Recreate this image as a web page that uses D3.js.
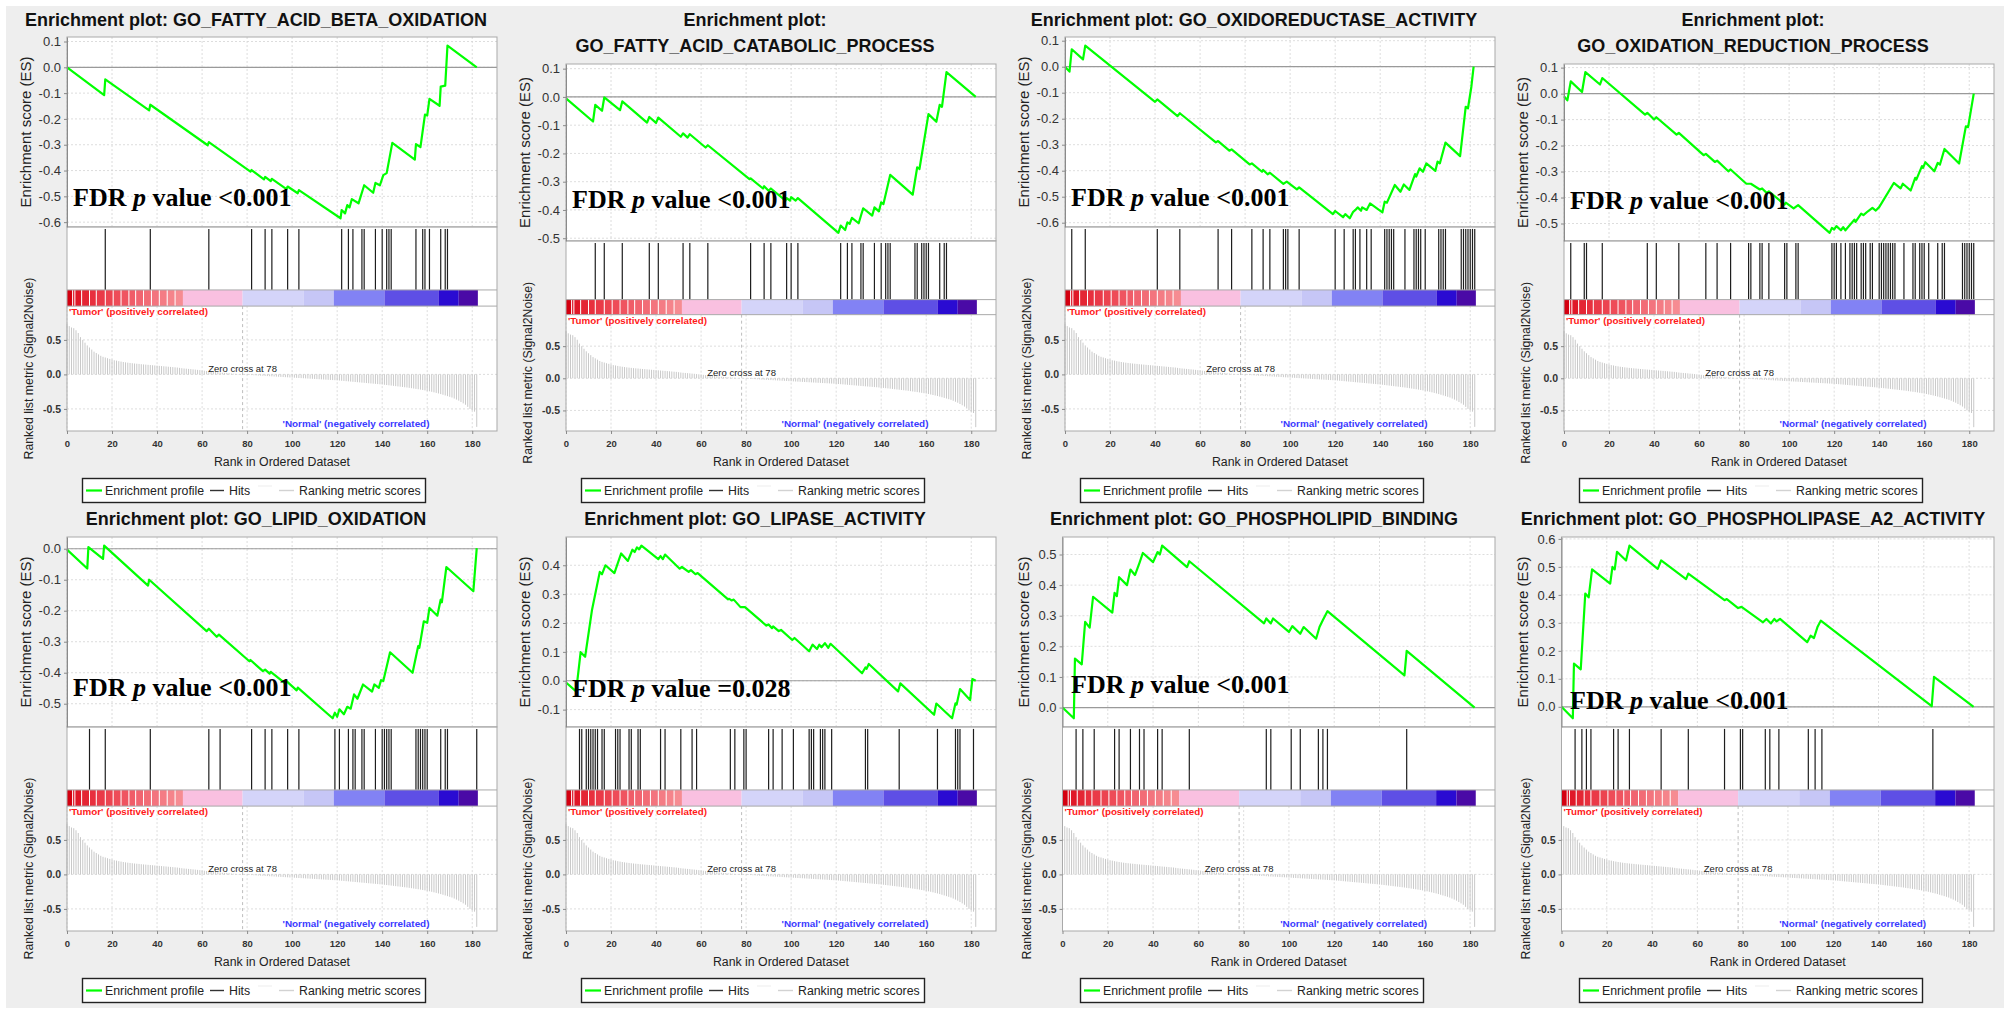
<!DOCTYPE html>
<html>
<head>
<meta charset="utf-8">
<script src="https://cdn.jsdelivr.net/npm/d3@7"></script>
<style>
  body { margin: 0; background: #fff; }
  svg { display: block; }
</style>
</head>
<body>
<script>
// ---- data ----
const titles = [
    ["Enrichment plot: GO_FATTY_ACID_BETA_OXIDATION"],
    ["Enrichment plot:", "GO_FATTY_ACID_CATABOLIC_PROCESS"],
    ["Enrichment plot: GO_OXIDOREDUCTASE_ACTIVITY"],
    ["Enrichment plot:", "GO_OXIDATION_REDUCTION_PROCESS"],
    ["Enrichment plot: GO_LIPID_OXIDATION"],
    ["Enrichment plot: GO_LIPASE_ACTIVITY"],
    ["Enrichment plot: GO_PHOSPHOLIPID_BINDING"],
    ["Enrichment plot: GO_PHOSPHOLIPASE_A2_ACTIVITY"]
]
const fdrValues = ["<0.001", "<0.001", "<0.001", "<0.001", "<0.001", "=0.028", "<0.001", "<0.001"]

// running enrichment score, [rank, ES] vertices
const es1 = [[0,0],[16.5,-0.108],[17,-0.047],[36.5,-0.167],[37,-0.145],[62.5,-0.302],[63,-0.29],[81.5,-0.404],[82,-0.398],[87.5,-0.434],[88,-0.425],[90.5,-0.441],[91,-0.432],[97.5,-0.472],[98,-0.462],[102.5,-0.488],[103,-0.476],[121.5,-0.585],[122,-0.553],[123.5,-0.566],[124.5,-0.534],[125.5,-0.543],[126.5,-0.511],[129.5,-0.527],[132,-0.457],[136,-0.486],[137,-0.448],[139,-0.457],[140.5,-0.418],[142,-0.41],[144.5,-0.293],[154.5,-0.358],[155,-0.298],[157,-0.309],[159,-0.183],[160,-0.187],[161,-0.122],[165.5,-0.149],[166,-0.075],[168,-0.071],[169,0.084],[182,0]]
const es2 = [[0,-0.005],[12,-0.087],[13,-0.028],[16,-0.049],[17,-0.002],[24,-0.047],[25,-0.016],[36,-0.091],[37,-0.071],[40,-0.092],[41,-0.073],[51,-0.141],[52,-0.129],[54,-0.144],[55,-0.132],[62,-0.179],[63,-0.171],[81.5,-0.291],[82,-0.288],[87.5,-0.324],[88,-0.316],[90,-0.332],[91,-0.324],[97.5,-0.367],[98,-0.358],[99.5,-0.367],[100,-0.355],[102,-0.367],[103,-0.358],[121,-0.481],[122,-0.455],[124,-0.471],[125,-0.444],[126,-0.449],[127,-0.428],[130,-0.447],[132,-0.394],[136,-0.42],[137,-0.391],[139,-0.405],[140,-0.373],[141,-0.379],[144,-0.276],[154,-0.346],[156,-0.249],[157,-0.255],[161,-0.061],[164.5,-0.088],[166,-0.028],[167,-0.035],[169,0.088],[182,0]]
const es3 = [[0,0],[2,-0.019],[3,0.067],[8,0.028],[9,0.081],[40,-0.135],[41,-0.126],[50,-0.19],[51,-0.179],[67,-0.291],[68,-0.286],[73,-0.323],[74,-0.318],[82,-0.376],[83,-0.372],[87.5,-0.404],[88,-0.397],[90,-0.414],[91,-0.408],[97,-0.451],[98.5,-0.442],[103,-0.472],[104,-0.464],[119,-0.567],[120,-0.555],[123.5,-0.579],[124.5,-0.567],[126.5,-0.583],[128,-0.558],[129,-0.551],[130,-0.541],[131.5,-0.554],[132,-0.541],[134,-0.551],[135.5,-0.526],[141,-0.56],[142,-0.519],[143,-0.523],[146.5,-0.455],[149,-0.481],[150.5,-0.453],[153,-0.474],[155.5,-0.413],[156,-0.423],[157.5,-0.391],[159,-0.404],[160.5,-0.372],[164.5,-0.401],[165.5,-0.365],[166.5,-0.372],[169,-0.292],[175.5,-0.344],[178,-0.154],[179,-0.16],[180.5,-0.077],[181.5,0]]
const es4 = [[0,-0.01],[1.5,-0.026],[3,0.047],[8,0.006],[9.5,0.083],[16,0.035],[17,0.06],[36,-0.081],[37,-0.074],[40,-0.1],[41,-0.091],[50,-0.158],[51,-0.151],[62,-0.237],[63,-0.232],[67,-0.263],[68,-0.258],[73,-0.299],[74,-0.292],[81,-0.347],[83,-0.347],[87,-0.369],[88,-0.365],[90,-0.382],[91,-0.376],[98,-0.427],[98.5,-0.42],[102,-0.442],[104,-0.429],[118,-0.536],[119,-0.517],[120,-0.523],[121,-0.51],[123,-0.526],[124,-0.514],[125,-0.526],[129,-0.485],[129.5,-0.494],[132,-0.462],[133,-0.468],[135,-0.453],[137,-0.44],[138.5,-0.45],[140,-0.437],[146.5,-0.344],[149.5,-0.365],[150.5,-0.347],[154,-0.373],[156,-0.324],[156.5,-0.331],[159,-0.279],[159.5,-0.286],[160.5,-0.264],[164.5,-0.299],[166,-0.267],[167,-0.273],[169,-0.213],[175.5,-0.269],[178.5,-0.126],[179.5,-0.129],[182,0]]
const es5 = [[0,-0.003],[9,-0.064],[9.5,0.005],[16,-0.033],[16.5,0.01],[36,-0.119],[36.5,-0.1],[62,-0.266],[63,-0.258],[66.5,-0.284],[67.5,-0.277],[81,-0.363],[81.5,-0.359],[87,-0.395],[88,-0.39],[90,-0.403],[90.5,-0.397],[96.5,-0.432],[97.5,-0.427],[102,-0.457],[102.5,-0.448],[118,-0.547],[119,-0.529],[120,-0.542],[121,-0.518],[123,-0.534],[124.5,-0.51],[126,-0.516],[127.5,-0.47],[129,-0.484],[131.5,-0.438],[135.5,-0.461],[136.5,-0.438],[138.5,-0.449],[139.5,-0.424],[140.5,-0.427],[143.5,-0.334],[153.5,-0.4],[156,-0.314],[156.5,-0.32],[158.5,-0.234],[160,-0.239],[161,-0.191],[164.5,-0.216],[166,-0.164],[166.5,-0.173],[168.5,-0.059],[180.5,-0.137],[182,0.002]]
const es6 = [[0,-0.006],[4.5,-0.037],[6.5,0.099],[8.5,0.083],[11.5,0.243],[15,0.377],[16,0.369],[17.5,0.4],[21.5,0.373],[24.5,0.441],[27.5,0.415],[29.5,0.454],[30.5,0.446],[31.5,0.462],[32.5,0.455],[33.5,0.468],[41,0.421],[42,0.432],[43,0.421],[44,0.437],[50.5,0.388],[51.5,0.394],[54.5,0.377],[55.5,0.383],[57.5,0.369],[58.5,0.373],[72,0.282],[72.5,0.284],[73.5,0.278],[74.5,0.281],[77.5,0.255],[79.5,0.255],[89,0.191],[90,0.195],[91.5,0.182],[92,0.188],[94.5,0.172],[95.5,0.176],[100.5,0.141],[101.5,0.148],[108,0.102],[109.5,0.125],[111.5,0.11],[112.5,0.125],[113.5,0.116],[115,0.13],[116.5,0.114],[117.5,0.128],[131.5,0.026],[133,0.046],[133.5,0.041],[134.5,0.058],[147.5,-0.037],[148.5,-0.009],[163.5,-0.118],[164.5,-0.079],[171.5,-0.13],[173,-0.078],[173.5,-0.083],[175,-0.029],[179.5,-0.067],[180.5,0.006],[182,0]]
const es7 = [[0,0],[5,-0.035],[5.5,0.16],[8.5,0.141],[10,0.28],[12,0.261],[13.5,0.362],[22,0.31],[23,0.375],[24,0.364],[25,0.426],[28.5,0.4],[30,0.451],[32,0.433],[34,0.473],[35.5,0.505],[40,0.475],[42,0.508],[43,0.5],[44,0.529],[55,0.459],[56,0.478],[89,0.275],[90,0.291],[92,0.275],[93,0.291],[100,0.247],[101.5,0.266],[105,0.241],[106.5,0.263],[112,0.225],[113.5,0.263],[115,0.286],[117,0.315],[151,0.105],[152,0.185],[182,0]]
const es8 = [[0,0],[5,-0.041],[5.5,0.154],[8.5,0.134],[10.5,0.405],[12,0.391],[13.5,0.491],[21.5,0.44],[22.5,0.5],[23.5,0.491],[24.5,0.554],[28.5,0.523],[30,0.576],[42.5,0.493],[44,0.523],[55,0.456],[56,0.476],[72,0.381],[73,0.385],[78,0.353],[79.5,0.357],[89,0.302],[90.5,0.314],[92.5,0.298],[94,0.314],[95,0.305],[96.5,0.314],[108.5,0.231],[110,0.254],[111.5,0.246],[113,0.284],[114.5,0.308],[163.5,0.002],[164.5,0.107],[182,0]]

// ranks of the gene-set members (hits)
const hits1 = [17,37,63,82,88,91,98,103,122,125,127,131,132,137,140,142,143,144,155,158,159,161,166,168,169]
const hits2 = [13,17,25,37,41,52,55,63,82,88,91,98,100,103,122,125,127,131,132,137,140,142,143,144,155,156,158,159,160,161,166,168,169]
const hits3 = [3,9,41,51,68,74,83,88,91,97,98,99,104,120,124,128,129,131,134,136,142,143,144,145,146,151,155,156,157,158,160,166,167,168,169,176,177,178,179,180,181,182]
const hits4 = [3,9,10,17,37,41,51,63,68,74,82,83,87,88,91,98,99,103,104,119,120,121,123,125,127,128,129,130,132,133,134,136,137,140,141,142,143,144,145,146,147,151,155,156,158,159,160,162,166,168,169,177,178,179,180,181,182]
const hits5 = [10,17,37,63,68,82,88,91,98,103,119,121,125,127,128,131,132,137,140,141,142,143,144,155,156,157,158,159,160,166,168,169,182]
const hits6 = [6,7,9,10,11,12,13,14,16,17,22,23,24,28,29,32,33,42,44,51,56,58,73,75,79,80,90,92,96,101,108,109,110,113,114,115,118,133,134,148,165,173,174,175,181]
const hits7 = [6,9,14,23,25,30,34,36,42,44,56,90,92,101,105,113,115,117,152]
const hits8 = [6,9,11,13,23,25,30,44,56,72,79,80,90,92,96,109,112,115,164]

// ranked list metric (Signal2Noise), ranks 0..182, shared by all panels
const metricScores = [
    0.73,0.70,0.68,0.67,0.64,0.60,0.54,0.50,0.46,0.42,
    0.39,0.36,0.33,0.31,0.29,0.27,0.255,0.245,0.235,0.225,
    0.215,0.205,0.20,0.192,0.186,0.18,0.175,0.17,0.166,0.162,
    0.158,0.155,0.152,0.148,0.145,0.142,0.139,0.136,0.133,0.13,
    0.127,0.124,0.121,0.118,0.115,0.112,0.109,0.106,0.103,0.10,
    0.095,0.09,0.086,0.083,0.08,0.077,0.073,0.07,0.066,0.062,
    0.058,0.054,0.05,0.046,0.042,0.038,0.034,0.031,0.028,0.025,
    0.022,0.019,0.016,0.013,0.01,0.008,0.005,0.003,-0.002,-0.004,
    -0.006,-0.008,-0.01,-0.012,-0.014,-0.016,-0.018,-0.02,-0.022,-0.024,
    -0.026,-0.028,-0.03,-0.032,-0.034,-0.036,-0.038,-0.04,-0.042,-0.044,
    -0.046,-0.048,-0.05,-0.052,-0.054,-0.056,-0.058,-0.06,-0.062,-0.064,
    -0.066,-0.068,-0.07,-0.072,-0.074,-0.076,-0.078,-0.08,-0.082,-0.084,
    -0.086,-0.089,-0.092,-0.095,-0.098,-0.101,-0.104,-0.107,-0.11,-0.113,
    -0.116,-0.119,-0.122,-0.125,-0.128,-0.131,-0.134,-0.137,-0.14,-0.143,
    -0.146,-0.15,-0.154,-0.158,-0.162,-0.166,-0.17,-0.174,-0.178,-0.182,
    -0.186,-0.19,-0.195,-0.2,-0.205,-0.21,-0.215,-0.22,-0.226,-0.232,
    -0.238,-0.245,-0.252,-0.26,-0.268,-0.276,-0.285,-0.295,-0.305,-0.315,
    -0.325,-0.335,-0.35,-0.365,-0.38,-0.40,-0.42,-0.44,-0.47,-0.50,
    -0.52,-0.54,-0.76
]
const zeroCross = 78

// colour bar under the hits: band edges (ranks) and band colours
const bandEdges = [0,2.5,3.5,6.5,10,13,17,20.5,24,27.5,30.5,34,37.5,41,44.5,48,51.5,78,105,118.5,141,165,174,182.5]
const bandColors = ["#d40010","#dc0a1c","#e01828","#e42634","#e8303e","#ea3a48","#ec4450","#ee4c58","#ef5460","#f05c68","#f16470","#f26c76","#f3747e","#f47c84","#f5848b","#f68c92",
    "#f9c0e0","#d4d4f9","#c6c6f6","#8282f4","#5e4fe5","#2a0bd2","#4a0aa6"]
const redBandCount = 16

const rankTicks = [0,20,40,60,80,100,120,140,160,180]
const metricTicks = [0.5,0.0,-0.5]
const legendItems = ["Enrichment profile", "Hits", "Ranking metric scores"]

// ---- layout ----
const W = 2008, H = 1011
const colX = [0, 499, 998, 1497]
const rowY = [0, 500]
const fdrBaseline = [206, 208, 206, 209, 196, 197, 193, 209]
const SANS = "'Liberation Sans', Arial, Helvetica, sans-serif"
const SERIF = "'Liberation Serif', 'Times New Roman', serif"

const panels = [
    {title: titles[0], es: es1, hits: hits1, fdr: fdrValues[0]},
    {title: titles[1], es: es2, hits: hits2, fdr: fdrValues[1]},
    {title: titles[2], es: es3, hits: hits3, fdr: fdrValues[2]},
    {title: titles[3], es: es4, hits: hits4, fdr: fdrValues[3]},
    {title: titles[4], es: es5, hits: hits5, fdr: fdrValues[4]},
    {title: titles[5], es: es6, hits: hits6, fdr: fdrValues[5]},
    {title: titles[6], es: es7, hits: hits7, fdr: fdrValues[6]},
    {title: titles[7], es: es8, hits: hits8, fdr: fdrValues[7]}
]

const fmt = d => {
    const s = d.toFixed(1)
    return s === "-0.0" ? "0.0" : s
}

const svg = d3.select("body").append("svg")
    .attr("width", W)
    .attr("height", H)
    .attr("viewBox", [0, 0, W, H])

svg.append("rect").attr("width", W).attr("height", H).attr("fill", "#fff")
svg.append("rect").attr("x", 6).attr("y", 6).attr("width", W - 10).attr("height", H - 9).attr("fill", "#eeeeee")

panels.forEach((p, i) => {
    const row = Math.floor(i / 4)
    const g = svg.append("g").attr("transform", `translate(${colX[i % 4]},${rowY[row]})`)
    drawPanel(g, p, i, row)
})

function drawPanel(g, p, i, row) {
    const top = p.title.length > 1 ? 64 : 37
    const bottom = 431
    const right = 497
    const h = bottom - top
    const esBottom = top + 0.482 * h
    const barTop = top + 0.642 * h
    const barBottom = top + 0.683 * h

    // ES scale padded by 5% like the JFreeChart auto range
    const [lo, hi] = d3.extent(p.es, d => d[1])
    const pad = (hi - lo) * 0.05
    const y = d3.scaleLinear([lo - pad, hi + pad], [esBottom, top])
    const esTicks = d3.range(Math.ceil((lo - pad) * 10), Math.floor((hi + pad) * 10) + 1)
        .map(k => k / 10)
        .filter(t => t >= lo - pad && t <= hi + pad)
    const left = esTicks[0] < 0 ? 67 : 64.5
    const x = d3.scaleLinear([0, 191], [left, right])
    const m = d3.scaleLinear([-0.82, 0.99], [bottom, barBottom])

    // title
    const title = g.append("text")
        .attr("font-family", SANS)
        .attr("font-weight", "bold")
        .attr("font-size", 18)
        .attr("fill", "#111")
        .attr("text-anchor", "middle")
    p.title.forEach((line, k) => {
        title.append("tspan").attr("x", 256).attr("y", (row ? 25 : 26) + k * 26).text(line)
    })

    // plot backgrounds
    g.append("rect").attr("x", left).attr("y", top).attr("width", right - left).attr("height", bottom - top).attr("fill", "#fff")

    // grid lines
    const grid = g.append("g")
        .attr("stroke", "#d4d4d4")
        .attr("stroke-width", 0.8)
        .attr("stroke-dasharray", "2,2")
    grid.append("g").selectAll("line").data(rankTicks).join("line")
        .attr("x1", d => x(d)).attr("x2", d => x(d))
        .attr("y1", top).attr("y2", esBottom)
    grid.append("g").selectAll("line").data(esTicks).join("line")
        .attr("x1", left).attr("x2", right)
        .attr("y1", d => y(d)).attr("y2", d => y(d))
    grid.append("g").selectAll("line").data(rankTicks).join("line")
        .attr("x1", d => x(d)).attr("x2", d => x(d))
        .attr("y1", barBottom).attr("y2", bottom)
    grid.append("g").selectAll("line").data(metricTicks).join("line")
        .attr("x1", left).attr("x2", right)
        .attr("y1", d => m(d)).attr("y2", d => m(d))

    // zero line of the ES plot
    g.append("line")
        .attr("x1", left).attr("x2", right)
        .attr("y1", y(0)).attr("y2", y(0))
        .attr("stroke", "#9a9a9a")
        .attr("stroke-width", 1.2)

    // enrichment profile
    g.append("path")
        .datum(p.es)
        .attr("fill", "none")
        .attr("stroke", "#00ff00")
        .attr("stroke-width", 2.2)
        .attr("stroke-linejoin", "round")
        .attr("d", d3.line().x(d => x(d[0])).y(d => y(d[1])))

    // hits
    g.append("g")
        .attr("stroke", "#1e1e1e")
        .attr("stroke-width", 1.2)
        .selectAll("line").data(p.hits).join("line")
        .attr("x1", d => x(d)).attr("x2", d => x(d))
        .attr("y1", esBottom + 2).attr("y2", barTop)

    // colour bar
    g.append("g").selectAll("rect").data(bandColors).join("rect")
        .attr("x", (c, k) => x(bandEdges[k]))
        .attr("width", (c, k) => x(bandEdges[k + 1]) - x(bandEdges[k]))
        .attr("y", barTop)
        .attr("height", barBottom - barTop)
        .attr("fill", c => c)
    g.append("g")
        .attr("stroke", "#fff")
        .attr("stroke-width", 1)
        .selectAll("line").data(bandEdges.slice(1, redBandCount)).join("line")
        .attr("x1", d => x(d)).attr("x2", d => x(d))
        .attr("y1", barTop).attr("y2", barBottom)

    // ranking metric bars
    g.append("g")
        .attr("stroke", "#c9c9c9")
        .attr("stroke-width", 1)
        .selectAll("line").data(metricScores).join("line")
        .attr("x1", (d, k) => x(k)).attr("x2", (d, k) => x(k))
        .attr("y1", m(0)).attr("y2", d => m(d))

    g.append("line")
        .attr("x1", x(zeroCross)).attr("x2", x(zeroCross))
        .attr("y1", barBottom).attr("y2", bottom)
        .attr("stroke", "#bdbdbd")
        .attr("stroke-dasharray", "3,3")

    g.append("text")
        .attr("x", x(zeroCross)).attr("y", m(0) - 2.5)
        .attr("text-anchor", "middle")
        .attr("font-family", SANS).attr("font-size", 9.5).attr("fill", "#222")
        .text(`Zero cross at ${zeroCross}`)

    g.append("text")
        .attr("x", left + 2).attr("y", barBottom + 9)
        .attr("font-family", SANS).attr("font-size", 9.8).attr("font-weight", "bold")
        .attr("fill", "#ff1a1a")
        .text("'Tumor' (positively correlated)")

    g.append("text")
        .attr("x", x(161)).attr("y", bottom - 4.5)
        .attr("text-anchor", "end")
        .attr("font-family", SANS).attr("font-size", 9.9).attr("font-weight", "bold")
        .attr("fill", "#3a3aff")
        .text("'Normal' (negatively correlated)")

    // plot outlines
    const frame = g.append("g").attr("fill", "none").attr("stroke", "#a9a9a9").attr("stroke-width", 1)
    frame.append("rect").attr("x", left).attr("y", top).attr("width", right - left).attr("height", esBottom - top)
    frame.append("rect").attr("x", left).attr("y", esBottom).attr("width", right - left).attr("height", bottom - esBottom)
    frame.append("line").attr("x1", left).attr("x2", right).attr("y1", barTop).attr("y2", barTop)
    frame.append("line").attr("x1", left).attr("x2", right).attr("y1", barBottom).attr("y2", barBottom)

    // axes
    const styleAxis = (a, size, weight) => {
        a.select(".domain").attr("stroke", "#8a8a8a")
        a.selectAll(".tick line").attr("stroke", "#8a8a8a")
        a.attr("font-family", SANS).attr("font-size", size)
        a.selectAll(".tick text").attr("fill", "#333").attr("font-weight", weight)
    }

    g.append("g")
        .attr("transform", `translate(${left},0)`)
        .call(d3.axisLeft(y).tickValues(esTicks).tickFormat(fmt).tickSize(3).tickSizeOuter(0).tickPadding(3))
        .call(a => styleAxis(a, 13, "normal"))

    g.append("g")
        .attr("transform", `translate(${left},0)`)
        .call(d3.axisLeft(m).tickValues(metricTicks).tickFormat(fmt).tickSize(3).tickSizeOuter(0).tickPadding(3))
        .call(a => a.select(".domain").remove())
        .call(a => styleAxis(a, 10.5, "bold"))

    g.append("g")
        .attr("transform", `translate(0,${bottom})`)
        .call(d3.axisBottom(x).tickValues(rankTicks).tickFormat(d3.format("d")).tickSize(3).tickSizeOuter(0).tickPadding(6))
        .call(a => a.select(".domain").remove())
        .call(a => styleAxis(a, 9.5, "bold"))

    // axis titles
    g.append("text")
        .attr("transform", `translate(31,${(top + esBottom) / 2}) rotate(-90)`)
        .attr("text-anchor", "middle")
        .attr("font-family", SANS).attr("font-size", 15).attr("fill", "#222")
        .text("Enrichment score (ES)")

    g.append("text")
        .attr("transform", `translate(33,${(barBottom + bottom) / 2}) rotate(-90)`)
        .attr("text-anchor", "middle")
        .attr("font-family", SANS).attr("font-size", 12.3).attr("fill", "#222")
        .text("Ranked list metric (Signal2Noise)")

    g.append("text")
        .attr("x", (left + right) / 2).attr("y", 466)
        .attr("text-anchor", "middle")
        .attr("font-family", SANS).attr("font-size", 12.3).attr("fill", "#222")
        .text("Rank in Ordered Dataset")

    // FDR annotation
    const fdr = g.append("text")
        .attr("x", 73).attr("y", fdrBaseline[i])
        .attr("font-family", SERIF).attr("font-weight", "bold").attr("font-size", 26)
        .attr("fill", "#000")
    fdr.append("tspan").text("FDR ")
    fdr.append("tspan").attr("font-style", "italic").text("p")
    fdr.append("tspan").text(` value ${p.fdr}`)

    // legend
    const lg = g.append("g").attr("font-family", SANS).attr("font-size", 12.3).attr("fill", "#222")
    lg.append("rect")
        .attr("x", 82.5).attr("y", 478.5).attr("width", 343).attr("height", 24)
        .attr("fill", "#fff").attr("stroke", "#222").attr("stroke-width", 1.4)
    lg.append("line").attr("x1", 86).attr("x2", 102).attr("y1", 490.5).attr("y2", 490.5)
        .attr("stroke", "#00ff00").attr("stroke-width", 2.2)
    lg.append("text").attr("x", 105).attr("y", 495).text(legendItems[0])
    lg.append("line").attr("x1", 210).attr("x2", 224).attr("y1", 490.5).attr("y2", 490.5)
        .attr("stroke", "#333").attr("stroke-width", 1.4)
    lg.append("text").attr("x", 229).attr("y", 495).text(legendItems[1])
    lg.append("line").attr("x1", 258).attr("x2", 272).attr("y1", 486).attr("y2", 486)
        .attr("stroke", "#f2f2f2").attr("stroke-width", 1.4)
    lg.append("line").attr("x1", 279).attr("x2", 294).attr("y1", 490.5).attr("y2", 490.5)
        .attr("stroke", "#d2d2d2").attr("stroke-width", 1.4)
    lg.append("text").attr("x", 299).attr("y", 495).text(legendItems[2])
}
</script>
</body>
</html>
